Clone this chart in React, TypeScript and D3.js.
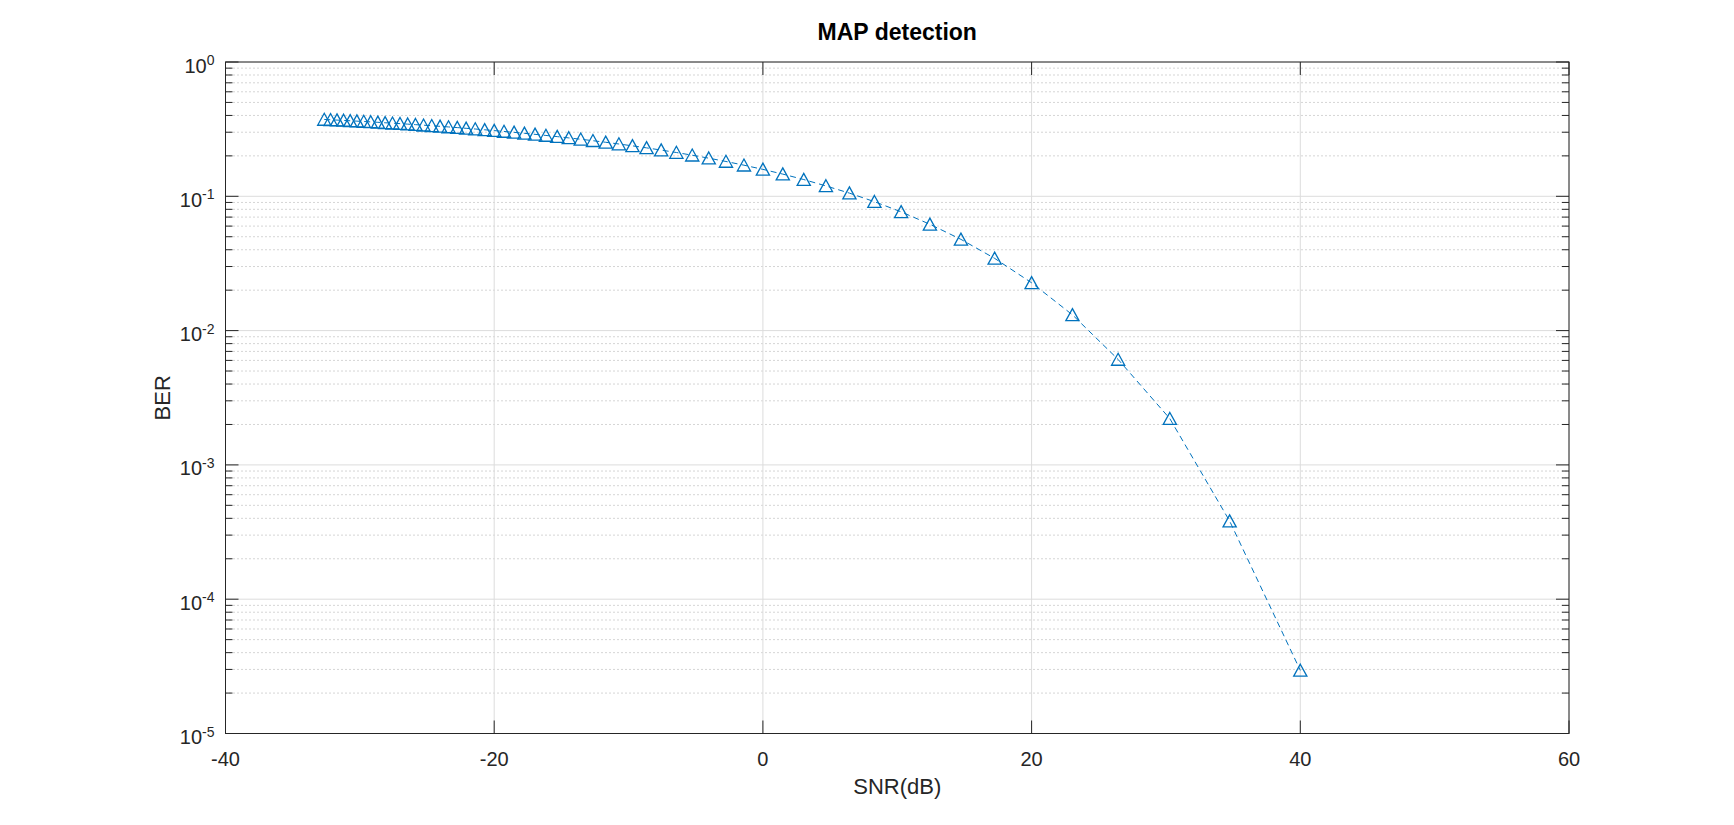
import { useEffect, useRef } from 'react';
import * as d3 from 'd3';

const snrDb = [
  -32.65, -32.18, -31.7, -31.21, -30.72, -30.22, -29.71, -29.19, -28.66, -28.12,
  -27.57, -27.01, -26.44, -25.86, -25.26, -24.65, -24.03, -23.4, -22.75, -22.09,
  -21.41, -20.71, -20.0, -19.27, -18.52, -17.75, -16.96, -16.15, -15.31, -14.45,
  -13.56, -12.65, -11.7, -10.72, -9.71, -8.66, -7.57, -6.44, -5.26, -4.03,
  -2.75, -1.41, 0, 1.48, 3.04, 4.69, 6.44, 8.3, 10.29, 12.43,
  14.74, 17.25, 20.0, 23.04, 26.44, 30.29, 34.74, 40.0,
];
const ber = [
  0.3735, 0.3715, 0.3694, 0.3673, 0.3651, 0.3628, 0.3605, 0.3581, 0.3556, 0.3528,
  0.3503, 0.3475, 0.3446, 0.3416, 0.3385, 0.3352, 0.3319, 0.3284, 0.3247, 0.3209,
  0.317, 0.3128, 0.3085, 0.304, 0.2993, 0.2944, 0.2893, 0.2839, 0.2782, 0.2722,
  0.266, 0.2594, 0.2525, 0.2452, 0.2375, 0.2294, 0.2209, 0.2119, 0.2023, 0.1923,
  0.1817, 0.1705, 0.1587, 0.1463, 0.1333, 0.1195, 0.1056, 0.0912, 0.0766, 0.0619,
  0.0478, 0.0345, 0.0227, 0.0131, 0.0061, 0.00221, 0.000382, 0.0000295,
];
const xTicks = [-40, -20, 0, 20, 40, 60];
const yExponents = [0, -1, -2, -3, -4, -5];

const App = () => {
  const svgRef = useRef<SVGSVGElement>(null);

  useEffect(() => {
    const w = 1734;
    const h = 825;
    const margin = { top: 62, right: 165, bottom: 91.5, left: 225.5 };
    const left = margin.left;
    const right = w - margin.right;
    const top = margin.top;
    const bottom = h - margin.bottom;
    const font = "'Liberation Sans', Arial, Helvetica, sans-serif";
    const axisColor = '#262626';
    const blue = '#0072bd';

    const svg = d3.select(svgRef.current);
    svg.selectAll('*').remove();

    const x = d3.scaleLinear().domain([-40, 60]).range([left, right]);
    const y = d3.scaleLog().domain([1e-5, 1]).range([bottom, top]);

    // minor log positions 2..9 per decade
    const minor: number[] = [];
    for (let k = -5; k < 0; k++) {
      for (let m = 2; m <= 9; m++) minor.push(m * Math.pow(10, k));
    }

    const grid = svg.append('g');
    //minor grid (dotted)
    grid.selectAll('line.minor')
      .data(minor)
      .enter().append('line')
      .attr('x1', left).attr('x2', right)
      .attr('y1', d => y(d)).attr('y2', d => y(d))
      .attr('stroke', '#aaaaaa')
      .attr('stroke-width', 1)
      .attr('stroke-dasharray', '1,3');
    //major grid
    grid.selectAll('line.hmaj')
      .data(yExponents)
      .enter().append('line')
      .attr('x1', left).attr('x2', right)
      .attr('y1', d => y(Math.pow(10, d))).attr('y2', d => y(Math.pow(10, d)))
      .attr('stroke', '#dcdcdc')
      .attr('stroke-width', 1);
    grid.selectAll('line.vmaj')
      .data(xTicks)
      .enter().append('line')
      .attr('x1', d => x(d)).attr('x2', d => x(d))
      .attr('y1', top).attr('y2', bottom)
      .attr('stroke', '#dcdcdc')
      .attr('stroke-width', 1);

    // data line
    const line = d3.line<number>()
      .x((d, i) => x(snrDb[i]))
      .y(d => y(d));
    svg.append('path')
      .datum(ber)
      .attr('d', line)
      .attr('fill', 'none')
      .attr('stroke', blue)
      .attr('stroke-width', 1)
      .attr('stroke-dasharray', '6,4');

    // triangle markers
    svg.append('g')
      .selectAll('path')
      .data(ber)
      .enter().append('path')
      .attr('d', (d, i) => {
        const cx = x(snrDb[i]);
        const cy = y(d);
        return `M${cx},${cy - 6.2}L${cx + 6.6},${cy + 5.8}L${cx - 6.6},${cy + 5.8}Z`;
      })
      .attr('fill', 'none')
      .attr('stroke', blue)
      .attr('stroke-width', 1.3);

    // box and ticks
    const axes = svg.append('g').attr('stroke', axisColor).attr('stroke-width', 1);
    axes.append('rect')
      .attr('x', left).attr('y', top)
      .attr('width', right - left).attr('height', bottom - top)
      .attr('fill', 'none');
    xTicks.forEach(t => {
      axes.append('line').attr('x1', x(t)).attr('x2', x(t)).attr('y1', bottom).attr('y2', bottom - 13);
      axes.append('line').attr('x1', x(t)).attr('x2', x(t)).attr('y1', top).attr('y2', top + 13);
    });
    yExponents.forEach(e => {
      const yy = y(Math.pow(10, e));
      axes.append('line').attr('x1', left).attr('x2', left + 13).attr('y1', yy).attr('y2', yy);
      axes.append('line').attr('x1', right).attr('x2', right - 13).attr('y1', yy).attr('y2', yy);
    });
    minor.forEach(v => {
      const yy = y(v);
      axes.append('line').attr('x1', left).attr('x2', left + 7).attr('y1', yy).attr('y2', yy);
      axes.append('line').attr('x1', right).attr('x2', right - 7).attr('y1', yy).attr('y2', yy);
    });

    // x tick labels
    svg.append('g')
      .selectAll('text')
      .data(xTicks)
      .enter().append('text')
      .attr('x', d => x(d))
      .attr('y', bottom + 32.5)
      .attr('text-anchor', 'middle')
      .style('font-family', font)
      .style('font-size', '20px')
      .attr('fill', axisColor)
      .text(d => d);

    // y tick labels 10^k
    const yl = svg.append('g')
      .selectAll('text')
      .data(yExponents)
      .enter().append('text')
      .attr('x', left - 11)
      .attr('y', d => y(Math.pow(10, d)) + 10.5)
      .attr('text-anchor', 'end')
      .style('font-family', font)
      .attr('fill', axisColor);
    yl.append('tspan').style('font-size', '20px').text('10');
    yl.append('tspan').style('font-size', '14px').attr('dy', -7.5).text(d => d);

    //labels
    svg.append('text')
      .attr('x', (left + right) / 2)
      .attr('y', 793.5)
      .attr('text-anchor', 'middle')
      .style('font-family', font)
      .style('font-size', '22px')
      .attr('fill', axisColor)
      .text('SNR(dB)');
    svg.append('text')
      .attr('transform', `translate(170, ${(top + bottom) / 2}) rotate(-90)`)
      .attr('text-anchor', 'middle')
      .style('font-family', font)
      .style('font-size', '22px')
      .attr('fill', axisColor)
      .text('BER');

    //title
    svg.append('text')
      .attr('x', (left + right) / 2)
      .attr('y', 40)
      .attr('text-anchor', 'middle')
      .style('font-family', font)
      .style('font-size', '23px')
      .style('font-weight', 'bold')
      .attr('fill', '#000')
      .text('MAP detection');
  }, []);

  return (
    <svg
      ref={svgRef}
      width={1734}
      height={825}
      style={{ position: 'absolute', left: 0, top: 0, display: 'block', background: '#fff' }}
    />
  );
};

export default App;
